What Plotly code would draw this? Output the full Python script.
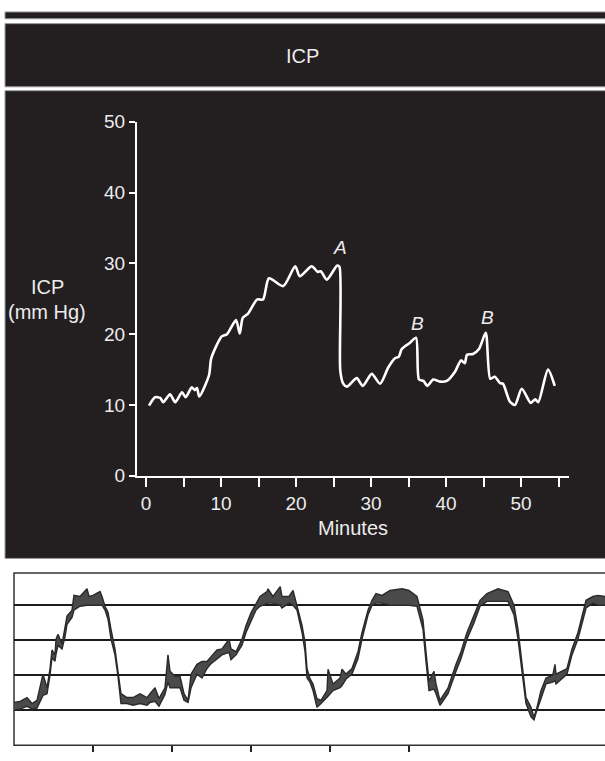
import plotly.graph_objects as go

# ---------------- data: ICP trend (minutes, mm Hg) ----------------
minutes = [0.4, 1.2, 1.9, 2.3, 3.2, 3.9, 4.8, 5.3, 6.1, 6.5, 6.8, 7.1, 8.4, 8.7,
           10.1, 10.8, 12.0, 12.5, 12.9, 13.6, 14.8, 15.6, 16.4, 18.3, 19.9, 20.5,
           22.1, 22.9, 23.3, 24.1, 25.5, 25.8, 25.9, 26.3, 26.8, 28.1, 28.9, 30.1,
           31.2, 32.3, 33.2, 33.7, 34.1, 35.2, 36.0, 36.4, 37.0, 37.5, 38.3, 39.2,
           40.1, 41.2, 42.0, 42.5, 42.8, 43.6, 44.4, 45.3, 45.9, 46.5, 47.2, 47.6,
           48.5, 49.2, 50.1, 51.3, 51.9, 52.3, 53.6, 54.5]
icp = [9.9, 11.1, 11.0, 10.4, 11.5, 10.4, 11.8, 11.1, 12.5, 12.1, 12.4, 11.2, 14.2, 16.6,
       19.7, 20.0, 22.0, 20.1, 22.3, 22.9, 24.9, 24.9, 27.9, 26.8, 29.6, 28.2,
       29.6, 28.8, 28.9, 27.7, 29.7, 29.5, 14.9, 13.0, 12.6, 13.8, 12.7, 14.4,
       13.0, 15.3, 16.6, 16.8, 17.9, 18.8, 19.5, 13.6, 13.4, 12.7, 13.6, 13.3,
       13.4, 14.7, 16.3, 15.9, 17.1, 17.2, 17.9, 20.2, 13.7, 14.0, 13.1, 13.0,
       10.5, 10.0, 12.3, 10.3, 10.8, 10.4, 15.0, 12.7]

y_ticks = [0, 10, 20, 30, 40, 50]
x_ticks = [0, 10, 20, 30, 40, 50]

marker_labels = ["A", "B", "B"]
marker_minutes = [25.8, 36.2, 45.5]
marker_icp = [32.2, 21.5, 22.4]

# ---------------- data: pressure waveform band (arbitrary units) ----------------
wave_t = [0, 0.076, 0.165, 0.228, 0.291, 0.367, 0.418, 0.456, 0.481, 0.519, 0.532, 0.557,
          0.608, 0.646, 0.671, 0.734, 0.759, 0.835, 0.924, 0.95, 1.0, 1.089, 1.114, 1.152,
          1.19, 1.228, 1.278, 1.316, 1.354, 1.43, 1.506, 1.595, 1.684, 1.722, 1.785, 1.835,
          1.911, 1.949, 1.975, 2.038, 2.101, 2.152, 2.203, 2.241, 2.316, 2.38, 2.443, 2.494,
          2.57, 2.633, 2.722, 2.747, 2.81, 2.886, 2.937, 3.0, 3.063, 3.114, 3.203, 3.215,
          3.278, 3.342, 3.37, 3.392, 3.481, 3.532, 3.582, 3.646, 3.684, 3.709, 3.747, 3.785,
          3.835, 3.886, 3.962, 3.975, 4.038, 4.127, 4.152, 4.203, 4.278, 4.354, 4.405, 4.481,
          4.532, 4.582, 4.658, 4.759, 4.911, 5.0, 5.101, 5.177, 5.215, 5.253, 5.316, 5.342,
          5.392, 5.494, 5.595, 5.658, 5.734, 5.823, 5.899, 5.987, 6.127, 6.253, 6.329, 6.38,
          6.43, 6.481, 6.544, 6.582, 6.62, 6.671, 6.734, 6.82, 6.848, 6.861, 7.0, 7.063,
          7.139, 7.203, 7.241, 7.329, 7.392, 7.481]
wave_upper = [1.22, 1.25, 1.36, 1.19, 1.28, 2.03, 1.64, 2.19, 2.72, 2.58, 3.03, 3.17,
              2.89, 3.31, 3.69, 3.86, 4.28, 4.25, 4.47, 4.25, 4.28, 4.39, 4.25, 3.97,
              3.80, 3.31, 2.75, 2.11, 1.47, 1.36, 1.36, 1.47, 1.36, 1.47, 1.64, 1.33,
              1.64, 2.58, 2.11, 1.97, 1.97, 1.47, 1.28, 2.03, 2.31, 2.39, 2.39, 2.53,
              2.72, 2.75, 3.03, 2.75, 2.67, 3.03, 3.42, 3.78, 4.06, 4.25, 4.39, 4.47,
              4.25, 4.47, 4.53, 4.25, 4.25, 4.42, 3.97, 3.42, 2.94, 2.19, 1.90, 1.75,
              1.33, 1.28, 1.56, 2.17, 1.75, 1.92, 2.17, 2.03, 2.19, 2.67, 3.22, 3.86,
              4.14, 4.33, 4.28, 4.42, 4.47, 4.42, 4.25, 3.58, 2.67, 1.83, 2.11, 1.75,
              1.28, 1.64, 2.31, 2.67, 3.22, 3.69, 4.14, 4.33, 4.47, 4.39, 4.00, 3.31,
              2.39, 1.36, 1.08, 0.80, 1.08, 1.56, 1.92, 2.00, 2.31, 2.03, 2.19, 2.75,
              3.22, 3.78, 4.14, 4.25, 4.28, 4.25]
wave_lower = [1.00, 1.03, 1.11, 1.03, 1.06, 1.42, 1.47, 2.00, 2.50, 2.40, 2.60, 2.85,
              2.75, 3.10, 3.45, 3.65, 3.86, 3.97, 4.00, 4.00, 4.00, 4.02, 4.00, 3.86,
              3.60, 3.03, 2.58, 1.97, 1.19, 1.19, 1.14, 1.19, 1.14, 1.22, 1.25, 1.11,
              1.45, 1.80, 1.64, 1.64, 1.64, 1.28, 1.22, 1.64, 2.03, 1.92, 2.19, 2.33,
              2.47, 2.58, 2.65, 2.44, 2.58, 2.86, 3.22, 3.56, 3.86, 3.97, 4.06, 4.06,
              4.06, 4.03, 4.00, 3.92, 4.06, 4.00, 3.86, 3.22, 2.67, 1.92, 1.80, 1.56,
              1.08, 1.19, 1.36, 1.40, 1.56, 1.64, 1.70, 1.89, 2.03, 2.47, 3.03, 3.72,
              4.00, 4.06, 4.06, 4.00, 4.00, 4.00, 3.97, 3.31, 2.39, 1.56, 1.60, 1.47,
              1.14, 1.47, 2.11, 2.47, 3.03, 3.50, 3.97, 4.11, 4.11, 4.11, 3.72, 3.03,
              2.11, 1.19, 0.81, 0.72, 1.00, 1.36, 1.75, 1.80, 1.85, 1.75, 2.03, 2.58,
              3.03, 3.58, 3.92, 4.06, 4.00, 4.00]
wave_grid = [1, 2, 3, 4]
wave_ticks = [1, 2, 3, 4, 5]

# ---------------- layout helpers (pixel -> paper) ----------------
W, H = 605, 761
def px(x):
    return x / W
def py(y):
    return 1 - y / H

DARK = "#231f20"
TXT = "#ececec"
FONT = "Liberation Sans, Arial, Helvetica, sans-serif"

fig = go.Figure()

fig.add_trace(go.Scatter(
    x=minutes, y=icp, mode="lines",
    line=dict(color="white", width=2.6, shape="spline", smoothing=0.7),
    xaxis="x", yaxis="y", hoverinfo="skip", showlegend=False))

fig.add_trace(go.Scatter(
    x=wave_t, y=wave_lower, mode="lines",
    line=dict(color="#2a2a2a", width=1.4),
    xaxis="x2", yaxis="y2", hoverinfo="skip", showlegend=False))
fig.add_trace(go.Scatter(
    x=wave_t, y=wave_upper, mode="lines", fill="tonexty", fillcolor="#4a4a4a",
    line=dict(color="#2a2a2a", width=1.4),
    xaxis="x2", yaxis="y2", hoverinfo="skip", showlegend=False))

shapes = [
    dict(type="rect", xref="paper", yref="paper", x0=px(5), x1=px(606), y0=py(9), y1=py(2),
         fillcolor=DARK, line=dict(color="#9a9a9a", width=1), layer="below"),
    dict(type="rect", xref="paper", yref="paper", x0=px(5), x1=px(606), y0=py(79), y1=py(14),
         fillcolor=DARK, line=dict(color="#9a9a9a", width=1), layer="below"),
    dict(type="rect", xref="paper", yref="paper", x0=px(5), x1=px(606), y0=py(564), y1=py(83),
         fillcolor=DARK, line=dict(color="#9a9a9a", width=1), layer="below"),
    dict(type="rect", xref="paper", yref="paper", x0=px(14), x1=px(607), y0=py(756), y1=py(579),
         fillcolor="white", line=dict(color="#333333", width=1.5), layer="below"),
]

annotations = [
    dict(text="ICP", xref="paper", yref="paper", x=px(302), y=py(47), showarrow=False,
         font=dict(family=FONT, size=20, color=TXT), xanchor="center", yanchor="middle"),
    dict(text="ICP", xref="paper", yref="paper", x=px(47), y=py(285), showarrow=False,
         font=dict(family=FONT, size=20, color=TXT), xanchor="center", yanchor="middle"),
    dict(text="(mm Hg)", xref="paper", yref="paper", x=px(47), y=py(311), showarrow=False,
         font=dict(family=FONT, size=20, color=TXT), xanchor="center", yanchor="middle"),
]
for lab, mx, my in zip(marker_labels, marker_minutes, marker_icp):
    annotations.append(dict(text="<i>%s</i>" % lab, x=mx, y=my, xref="x", yref="y",
                            showarrow=False, xanchor="center", yanchor="middle",
                            font=dict(family=FONT, size=19, color=TXT)))

fig.update_layout(
    width=W, height=H,
    margin=dict(l=0, r=0, t=0, b=0),
    paper_bgcolor="white", plot_bgcolor="rgba(0,0,0,0)",
    showlegend=False,
    shapes=shapes, annotations=annotations,
    xaxis=dict(domain=[px(137), px(569)], range=[-1.2, 56.4], anchor="y",
               tickvals=x_ticks, ticks="outside", ticklen=9, tickwidth=1.5, tickcolor="white",
               minor=dict(tickvals=[5, 15, 25, 35, 45, 55], ticks="outside", ticklen=9,
                          tickwidth=1.5, tickcolor="white"),
               showline=True, linecolor="white", linewidth=2, showgrid=False, zeroline=False,
               tickfont=dict(family=FONT, size=19, color=TXT),
               title=dict(text="Minutes", font=dict(family=FONT, size=20, color=TXT), standoff=8)),
    yaxis=dict(domain=[py(479), py(115)], range=[0, 50], anchor="x",
               tickvals=y_ticks, ticks="outside", ticklen=6, tickwidth=1.5, tickcolor="white",
               showline=True, linecolor="white", linewidth=2, showgrid=False, zeroline=False,
               tickfont=dict(family=FONT, size=19, color=TXT)),
    xaxis2=dict(domain=[px(14), 1.0], range=[0, 7.481], anchor="y2",
                tickvals=wave_ticks, ticks="outside", ticklen=6, tickwidth=1.5, tickcolor="#222222",
                showticklabels=False, showgrid=False, zeroline=False, showline=False),
    yaxis2=dict(domain=[py(756), py(579)], range=[0, 4.92], anchor="x2",
                tickvals=wave_grid, showticklabels=False, ticks="",
                showgrid=True, gridcolor="#1c1c1c", gridwidth=2, zeroline=False, showline=False),
)

fig.write_html(
    "out.html",
    config={"displayModeBar": False},
    post_script=(
        "document.documentElement.style.margin='0';"
        "document.body.style.margin='0';document.body.style.padding='0';"
        "document.body.style.overflow='hidden';"
        "document.documentElement.style.overflow='hidden';"
    ),
)
